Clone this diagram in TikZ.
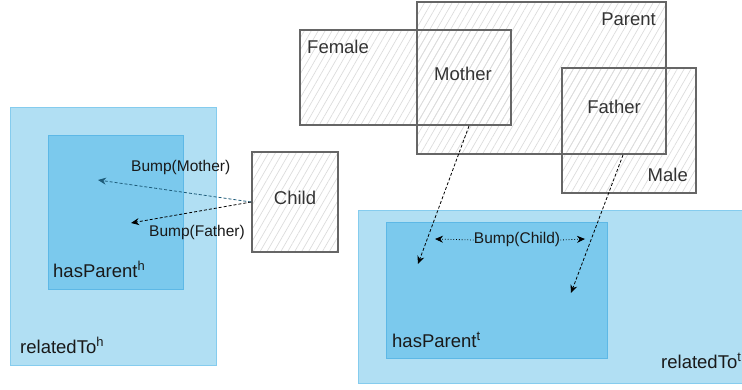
\documentclass[tikz,border=0pt]{standalone}
\usepackage{fontspec}
\setmainfont{Liberation Sans}
\usetikzlibrary{arrows.meta, patterns.meta}
\usepackage{xcolor}
\definecolor{SetGray}{HTML}{666666}
\definecolor{HatchGray}{HTML}{DCDCDC}
\definecolor{LabelGray}{HTML}{333333}
\definecolor{OuterBlue}{HTML}{B1DFF3}
\definecolor{OuterLine}{HTML}{85CCEE}
\definecolor{InnerBlue}{HTML}{7BC9ED}
\definecolor{InnerLine}{HTML}{5DB8E6}
\definecolor{BumpTeal}{HTML}{1D5B79}

\begin{document}
\begin{tikzpicture}[x=1pt, y=-1pt,
    setbox/.style={pattern={Lines[angle=60,distance=6pt,line width=0.7pt]}, pattern color=HatchGray},
    setline/.style={draw=SetGray, line width=1.6pt},
    outerbox/.style={draw=OuterLine, line width=0.9pt, fill=OuterBlue},
    innerbox/.style={draw=InnerLine, line width=0.9pt, fill=InnerBlue},
    setlabel/.style={inner sep=0, text=LabelGray, font=\fontsize{18.5}{22}\selectfont},
    boxlabel/.style={inner sep=0, text=black!90, font=\fontsize{18.5}{22}\selectfont},
    bumplabel/.style={inner sep=0, text=black!90, font=\fontsize{15.5}{18}\selectfont},
    bumparrow/.style={line width=0.8pt, dash pattern=on 3pt off 2pt, -{Stealth[length=8pt,width=7pt]}},
    childarrow/.style={line width=0.8pt, dotted, -{Stealth[length=8pt,width=7pt]}}]
    \useasboundingbox (0,0) rectangle (742,390);

    % relatedTo (head side)
    \node[outerbox, minimum width=206pt, minimum height=258pt] (relh) at (113,236) {};
    \node[innerbox, minimum width=135pt, minimum height=154pt] (hasph) at (115.5,212) {};
    \node[boxlabel, anchor=base west] (relhlbl) at (20,353) {relatedTo\textsuperscript{h}};
    \node[boxlabel, anchor=base west] (hasphlbl) at (53,277) {hasParent\textsuperscript{h}};

    % relatedTo (tail side)
    \node[outerbox, minimum width=442pt, minimum height=173pt] (relt) at (579,296.5) {};
    \node[innerbox, minimum width=221pt, minimum height=136pt] (haspt) at (496.5,290) {};
    \node[boxlabel, anchor=base west] (reltlbl) at (661,368) {relatedTo\textsuperscript{t}};
    \node[boxlabel, anchor=base west] (haspthlbl) at (392,347) {hasParent\textsuperscript{t}};

    % Child
    \node[setbox, setline, minimum width=86pt, minimum height=100pt] (child) at (295,202) {};
    \node[setlabel, anchor=base] (childlbl) at (295,205) {Child};

    % Female, Parent, Male (hatching first, borders on top)
    \node[setbox, minimum width=211pt, minimum height=95pt] (female) at (405.5,77.5) {};
    \node[setbox, minimum width=249pt, minimum height=152pt] (parent) at (541.5,78) {};
    \node[setbox, minimum width=134pt, minimum height=125pt] (male) at (629,130.5) {};
    \draw[setline] (female.north west) rectangle (female.south east);
    \draw[setline] (parent.north west) rectangle (parent.south east);
    \draw[setline] (male.north west) rectangle (male.south east);
    \node[setlabel, anchor=base west] (femalelbl) at (307,54) {Female};
    \node[setlabel, anchor=base east] (parentlbl) at (656,26) {Parent};
    \node[setlabel, anchor=base east] (malelbl) at (688,182) {Male};
    \node[setlabel, anchor=base] (mother) at (463,81) {Mother};
    \node[setlabel, anchor=base] (father) at (614,114) {Father};

    % Bumps of the child
    \coordinate (mumh) at (98,180);
    \coordinate (dadh) at (131,223);
    \draw[bumparrow, BumpTeal] (child.west) -- (mumh);
    \draw[bumparrow] (child.west) -- (dadh);
    \node[bumplabel, anchor=base west] (bumpmum) at (131,172) {Bump(Mother)};
    \node[bumplabel, anchor=base west] (bumpdad) at (149,237) {Bump(Father)};

    % Mother and Father into hasParent (tail)
    \coordinate (mumsrc) at (469,126);
    \coordinate (mumt) at (418,264);
    \coordinate (dadsrc) at (623,155);
    \coordinate (dadt) at (571,293);
    \draw[bumparrow] (mumsrc) -- (mumt);
    \draw[bumparrow] (dadsrc) -- (dadt);

    % Bump of the child
    \node[bumplabel, anchor=base] (bumpchild) at (517,244) {Bump(Child)};
    \coordinate (bcl) at (435,239);
    \coordinate (bcr) at (585,239);
    \draw[childarrow] (bumpchild.west) -- (bcl);
    \draw[childarrow] (bumpchild.east) -- (bcr);
\end{tikzpicture}
\end{document}
